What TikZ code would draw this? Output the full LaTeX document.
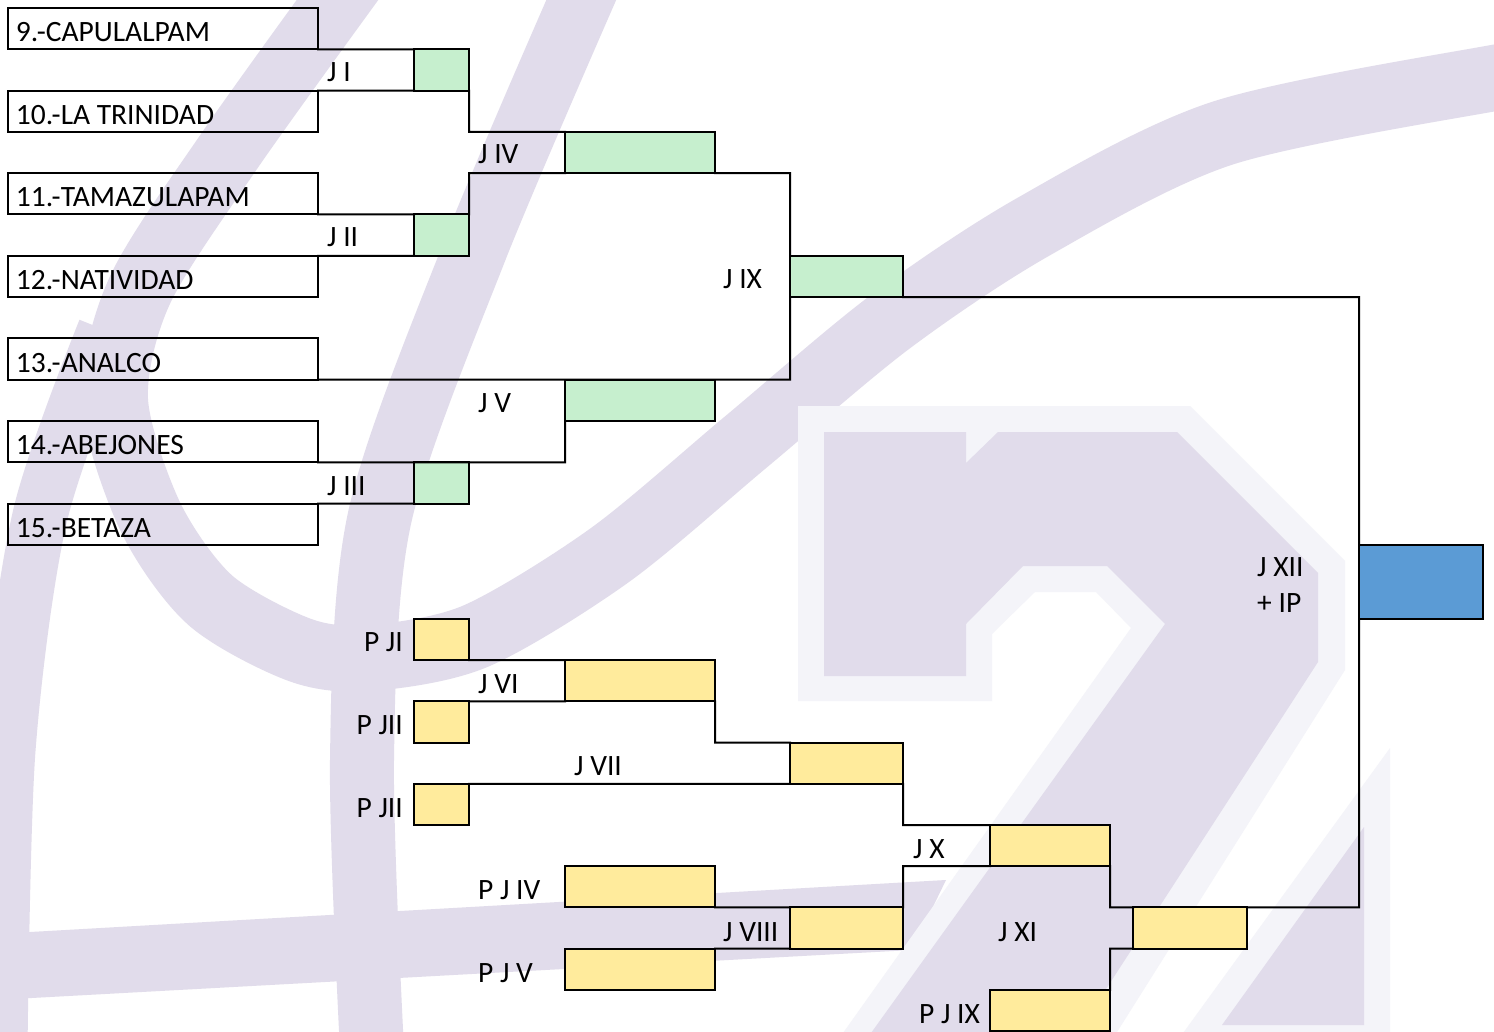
\documentclass[tikz,border=0pt]{standalone}
\usepackage{fontspec}
\setmainfont{Carlito}
\usepackage{tikz}
\usetikzlibrary{positioning}
\definecolor{wmark}{RGB}{225,220,235}
\definecolor{wlight}{RGB}{244,244,249}
\definecolor{gcell}{RGB}{198,239,206}
\definecolor{ycell}{RGB}{255,235,156}
\definecolor{bcell}{RGB}{91,155,213}

\begin{document}
\begin{tikzpicture}[x=1pt, y=-1pt,
    font=\fontsize{29.5}{36}\selectfont,
    team/.style={draw, line width=2pt, outer sep=0pt, anchor=north west, minimum height=41.3pt,
        text width=294pt, inner xsep=8pt, inner ysep=0pt, text height=26pt,
        text depth=0pt, align=flush left},
    cell/.style={draw, line width=2pt, outer sep=0pt, anchor=north west, inner sep=0pt,
        minimum height=41.3pt},
    gbox/.style={cell, fill=gcell},
    ybox/.style={cell, fill=ycell, minimum height=41.2pt},
    narrow/.style={minimum width=55pt},
    wide/.style={minimum width=150pt},
    mid/.style={minimum width=113pt},
    lbl/.style={inner sep=0pt},
    wire/.style={draw, line width=2pt, line cap=rect}]

    \useasboundingbox (0,0) rectangle (1494,1032);
    \fill[white] (0,0) rectangle (1494,1032);

    % watermark
    \begin{scope}
        \clip (0,0) rectangle (1494,1032);
        \draw[wmark, line width=66pt] plot[smooth] coordinates {(352,-20) (230,150) (140,290)
            (115,400) (150,516) (210,600) (300,650) (370,658) (476,636) (610,555) (747,441)
            (890,322) (1033,227) (1223,133) (1494,78) (1580,68)};
        \draw[wmark, line width=64pt] plot[smooth] coordinates {(590,-20) (475,250) (380,516)
            (362,760) (372,1050)};
        \draw[wmark, line width=55pt] plot[smooth] coordinates {(105,330) (40,516) (8,750) (0,1050)};
        \fill[wmark] (-5,934) -- (946,880) -- (912,950) -- (-5,1000) -- cycle;
        \fill[wlight] (798,406) -- (1190,406) -- (1345,561) -- (1345,670) -- (1112,1040)
            -- (838,1040) -- (1131,628) -- (1096,592) -- (1035,592) -- (992,634)
            -- (992,701) -- (798,701) -- cycle;
        \fill[wmark] (824,432) -- (966,432) -- (966,463) -- (998,432) -- (1177,432)
            -- (1318,573) -- (1318,662) -- (1073,1040) -- (866,1040) -- (1165,624)
            -- (1107,566) -- (1023,566) -- (966,624) -- (966,676) -- (824,676) -- cycle;
        \fill[wlight] (1390,748) -- (1390,1040) -- (1178,1040) -- cycle;
        \fill[wmark] (1364,827) -- (1364,1025) -- (1222,1025) -- cycle;
    \end{scope}

    % teams
    \node[team] (t9)  at (8,8)     {9.-CAPULALPAM};
    \node[team] (t10) at (8,90.6)  {10.-LA TRINIDAD};
    \node[team] (t11) at (8,173.2) {11.-TAMAZULAPAM};
    \node[team] (t12) at (8,255.8) {12.-NATIVIDAD};
    \node[team] (t13) at (8,338.4) {13.-ANALCO};
    \node[team] (t14) at (8,421)   {14.-ABEJONES};
    \node[team] (t15) at (8,503.6) {15.-BETAZA};

    % results
    \node[gbox, narrow] (gI)   at (414,49.3)  {};
    \node[gbox, narrow] (gII)  at (414,214.5) {};
    \node[gbox, narrow] (gIII) at (414,462.3) {};
    \node[gbox, wide]   (gIV)  at (565,131.9) {};
    \node[gbox, wide]   (gV)   at (565,379.7) {};
    \node[gbox, mid]    (gIX)  at (790,255.8) {};
    \node[cell, fill=bcell, minimum width=124pt, minimum height=74pt] (final) at (1359,545) {};

    \node[ybox, narrow] (yPJI)   at (414,619)   {};
    \node[ybox, narrow] (yPJII)  at (414,701.4) {};
    \node[ybox, narrow] (yPJIIb) at (414,783.8) {};
    \node[ybox, wide]   (yVI)    at (565,660.2) {};
    \node[ybox, wide]   (yPJIV)  at (565,866.2) {};
    \node[ybox, wide]   (yPJV)   at (565,948.6) {};
    \node[ybox, mid]    (yVII)   at (790,742.6) {};
    \node[ybox, mid]    (yVIII)  at (790,907.4) {};
    \node[ybox, minimum width=120pt] (yX)    at (990,825)   {};
    \node[ybox, minimum width=120pt] (yPJIX) at (990,989.8) {};
    \node[ybox, minimum width=114pt] (yXI)   at (1133,907.4) {};

    % labels
    \node[lbl, anchor=base west] (lI)   at (327,82)  {J I};
    \node[lbl, anchor=base west] (lII)  at (327,247) {J II};
    \node[lbl, anchor=base west] (lIII) at (327,495) {J III};
    \node[lbl, anchor=base west] (lIV)  at (478,164) {J IV};
    \node[lbl, anchor=base west] (lV)   at (478,412) {J V};
    \node[lbl, anchor=base west] (lIX)  at (723,289) {J IX};
    \node[lbl, anchor=north west, align=left] (lXII) at (1257,557) {J XII\\+ IP};
    \node[lbl, anchor=base east] (lPJI)   at (403,651) {P JI};
    \node[lbl, anchor=base east] (lPJII)  at (403,734) {P JII};
    \node[lbl, anchor=base east] (lPJIIb) at (403,817) {P JII};
    \node[lbl, anchor=base west] (lVI)    at (478,693) {J VI};
    \node[lbl, anchor=base west] (lVII)   at (574,775) {J VII};
    \node[lbl, anchor=base west] (lX)     at (913,858) {J X};
    \node[lbl, anchor=base west] (lPJIV)  at (478,899) {P J IV};
    \node[lbl, anchor=base west] (lVIII)  at (723,941) {J VIII};
    \node[lbl, anchor=base west] (lXI)    at (998,941) {J XI};
    \node[lbl, anchor=base west] (lPJV)   at (478,982) {P J V};
    \node[lbl, anchor=base east] (lPJIX)  at (980,1023) {P J IX};

    % bracket lines
    \path[wire]
        (t9.south east) -- (gI.north west)
        (t10.north east) -- (gI.south west)
        (gI.south east) |- (gIV.north west)
        (t11.south east) -- (gII.north west)
        (t12.north east) -- (gII.south west)
        (gII.north east) |- (gIV.south west)
        (gIV.south east) -| (gIX.north west)
        (gIX.south west) |- (t13.south east)
        (gV.south west) |- (t14.south east)
        (t15.north east) -- (gIII.south west)
        (gIX.south east) -| (final.north west)
        (final.south west) |- (yXI.north east)
        (yXI.north west) -| (yX.south east)
        (yXI.south west) -| (yPJIX.north east)

        (yPJI.south east) -- (yVI.north west)
        (yPJII.north east) -- (yVI.south west)
        (yVI.south east) |- (yVII.north west)
        (yPJIIb.north east) -- (yVII.south west)
        (yVII.south east) |- (yX.north west)
        (yX.south west) -| (yVIII.north east)
        (yPJIV.south east) -- (yVIII.north west)
        (yPJV.north east) -- (yVIII.south west);

\end{tikzpicture}
\end{document}
